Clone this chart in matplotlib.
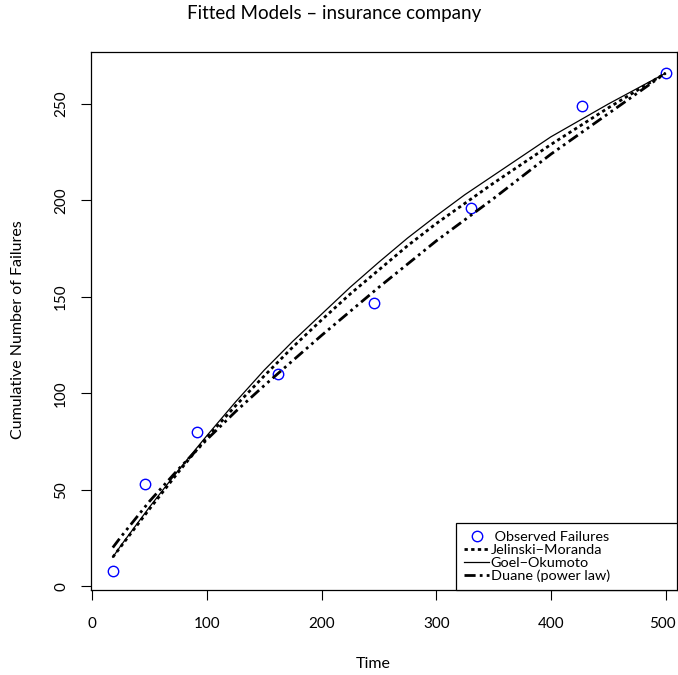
import numpy as np
import matplotlib
matplotlib.use("Agg")
import matplotlib.pyplot as plt
import matplotlib.transforms as mtransforms

# observed cumulative failures
obs_time = [18, 46, 91, 162, 246, 330, 427, 500]
obs_fail = [8, 53, 80, 110, 147, 196, 249, 266]

# fitted curves, sampled along the time axis
fit_time = [18, 25, 50, 75, 100, 125, 150, 175, 200, 225, 250, 275, 300,
            325, 350, 375, 400, 425, 450, 475, 500]
jm_fit = [15, 20.5, 40, 59, 77, 93.5, 109, 124, 138, 151.5, 164, 176.5, 188,
          198.5, 209, 219, 229, 238.5, 248, 257, 266]
go_fit = [15, 21, 41, 60, 78, 95.5, 112, 127, 141, 155, 168, 180.5, 192,
          203, 213, 223, 233, 241.5, 250, 258, 266]
duane_fit = [20, 25.5, 44, 60.5, 76, 90.5, 104, 117, 130, 142.5, 155, 167,
             179, 190, 201, 212.5, 224, 234.5, 245, 255.5, 266]

xticks = [0, 100, 200, 300, 400, 500]
yticks = [0, 50, 100, 150, 200, 250]

plt.rcParams['font.family'] = ['Lato', 'DejaVu Sans']
plt.rcParams['font.size'] = 11

fig = plt.figure(figsize=(6.78, 6.75), dpi=100)
ax = fig.add_axes([91 / 678, 85 / 675, 586 / 678, 538 / 675])

ax.plot(obs_time, obs_fail, 'o', mfc='none', mec='#0000ff', ms=7.5, mew=1,
        label=' Observed Failures')
ax.plot(fit_time, jm_fit, color='black', lw=2, dashes=(1.2, 1.2),
        label='Jelinski\u2212Moranda')
ax.plot(fit_time, go_fit, color='black', lw=0.9, label='Goel\u2212Okumoto')
ax.plot(fit_time, duane_fit, color='black', lw=2,
        dashes=(4, 1.5, 1, 1.5, 1, 1.5), label='Duane (power law)')

ax.set_xlim(-1, 510)
ax.set_ylim(-2, 277)
ax.set_xticks(xticks)
ax.set_yticks(yticks)
ax.set_yticklabels([str(v) for v in yticks], rotation=90, va='center')
ax.tick_params(direction='out', length=7.5, width=0.8, labelsize=11, pad=9)
ax.tick_params(axis='x', pad=12)
for s in ax.spines.values():
    s.set_linewidth(0.9)

# keep the last x label inside the figure
last = ax.get_xticklabels()[-1]
last.set_transform(last.get_transform() +
                   mtransforms.ScaledTranslation(-2 / 72, 0, fig.dpi_scale_trans))

# legend box stretched over the lower right corner
leg = ax.legend(loc='lower left', bbox_to_anchor=(0.623, 0.0, 0.377, 0.126),
                mode='expand', borderaxespad=0, fancybox=False,
                edgecolor='black', framealpha=1, handlelength=1.75,
                labelspacing=0.06, borderpad=0.55, handletextpad=0.1,
                fontsize=10.4)
leg.get_frame().set_linewidth(0.9)

fig.text(334 / 678, 1 - 13 / 675, 'Fitted Models \u2013 insurance company',
         ha='center', va='center', fontsize=13.5)
fig.text(373 / 678, 1 - 664 / 675, 'Time', ha='center', va='center',
         fontsize=11.5)
fig.text(18 / 678, 1 - 330 / 675, 'Cumulative Number of Failures',
         ha='center', va='center', rotation=90, fontsize=11.5)

fig.savefig('out.png', dpi=100)
